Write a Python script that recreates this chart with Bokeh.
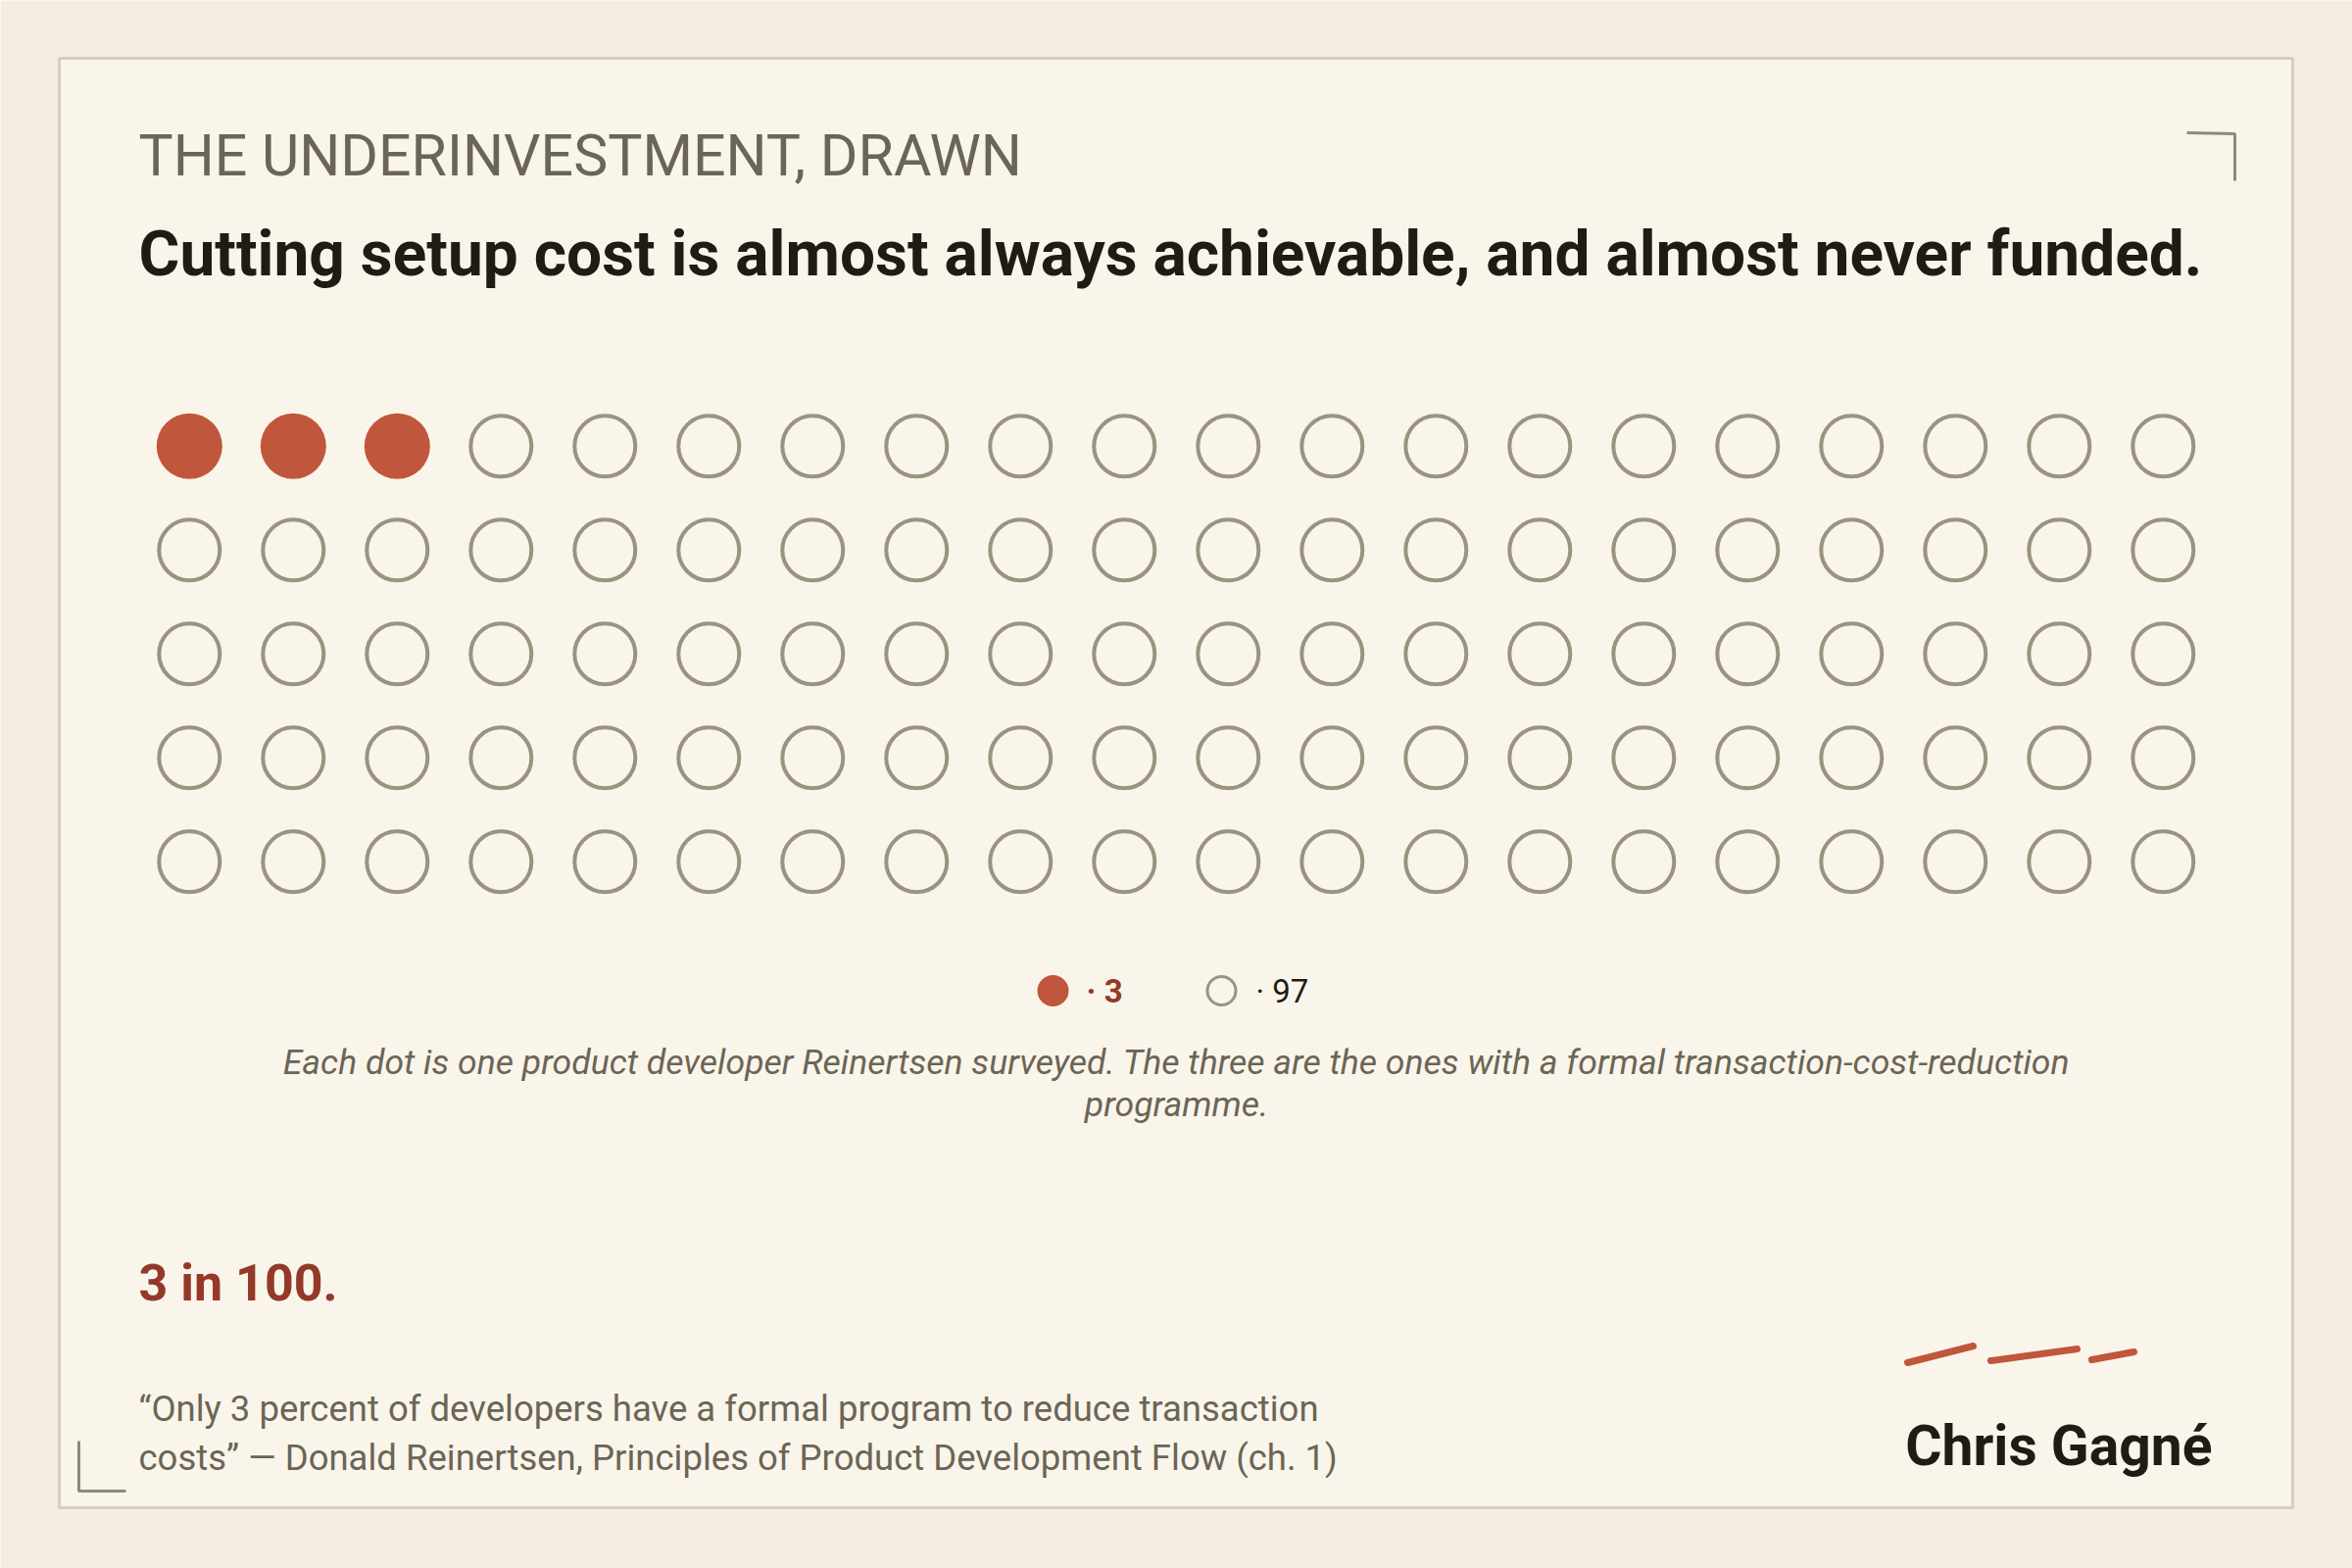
from bokeh.plotting import figure
from bokeh.models import Range1d, Label, ColumnDataSource
from bokeh.embed import file_html
from bokeh.resources import INLINE

# ---------------- data ----------------
groups = ["formal programme", "no programme"]
counts = [3, 97]
n_cols = 20
n_rows = 5

subtitle = "THE UNDERINVESTMENT, DRAWN"
title = "Cutting setup cost is almost always achievable, and almost never funded."
caption_lines = [
    "Each dot is one product developer Reinertsen surveyed. The three are the ones with a formal transaction-cost-reduction",
    "programme.",
]
headline = "3 in 100."
quote_lines = [
    "\u201cOnly 3 percent of developers have a formal program to reduce transaction",
    "costs\u201d \u2014 Donald Reinertsen, Principles of Product Development Flow (ch. 1)",
]
signature = "Chris Gagn\u00e9"

# ---------------- style ----------------
PAGE_BG = "#f4eee2"
CARD_BG = "#faf5ea"
CARD_LINE = "#d5cfc3"
RED = "#c0563b"
DARK_RED = "#93392a"
GREY_DOT = "#9a9380"
MUTED = "#6b6556"
INK = "#1f1c16"
FONT = "Roboto"

W, H = 2400, 1600
OFF = 0

# grid layout (page pixels)
GX0, GY0, PITCH = 192.8, 454.8, 106.0

# build dot table
kind = []
for g, c in zip(groups, counts):
    kind += [g] * c
xs = [i % n_cols for i in range(len(kind))]
ys = [i // n_cols for i in range(len(kind))]
src_fill = ColumnDataSource(dict(
    x=[x for x, k in zip(xs, kind) if k == groups[0]],
    y=[y for y, k in zip(ys, kind) if k == groups[0]]))
src_open = ColumnDataSource(dict(
    x=[x for x, k in zip(xs, kind) if k == groups[1]],
    y=[y for y, k in zip(ys, kind) if k == groups[1]]))

p = figure(width=W, height=H,
           x_range=Range1d(OFF, OFF + W), y_range=Range1d(OFF + H, OFF),
           output_backend="svg", toolbar_location=None, min_border=0,
           x_axis_location=None, y_axis_location=None,
           background_fill_color=PAGE_BG, border_fill_color=PAGE_BG,
           outline_line_color=None)
p.grid.visible = False

# grid ranges: column/row index -> page pixel
xs0 = -(GX0 - OFF) / PITCH
ye = -(GY0 - OFF) / PITCH
p.extra_x_ranges = {"gx": Range1d(xs0, xs0 + W / PITCH)}
p.extra_y_ranges = {"gy": Range1d(ye + H / PITCH, ye)}

# card
p.quad(left=60, right=2339, top=59, bottom=1538, fill_color=CARD_BG,
       line_color=CARD_LINE, line_width=3)

# corner marks
p.line([2231, 2280, 2280], [135, 136, 184], line_color="#8f8a77", line_width=3)
p.line([80, 80, 128], [1470, 1521, 1521], line_color="#8f8a77", line_width=3)

# dots
p.circle("x", "y", radius=33.5 / PITCH, source=src_fill, fill_color=RED,
         line_color=None, x_range_name="gx", y_range_name="gy")
p.circle("x", "y", radius=31 / PITCH, source=src_open, fill_color=None,
         line_color=GREY_DOT, line_width=4, x_range_name="gx", y_range_name="gy")

# legend
p.scatter([1074], [1010.5], size=32, marker="circle", fill_color=RED, line_color=None)
p.scatter([1246], [1010.5], size=29, marker="circle", fill_color=None,
          line_color=GREY_DOT, line_width=3)

def lab(x, y, text, size, color, style="normal", align="left"):
    # y is the wanted baseline; compensate for the renderer's baseline offset
    p.add_layout(Label(x=x, y=y - 0.32 * size, text=text, text_font=FONT,
                       text_font_size=f"{size}px", text_color=color,
                       text_font_style=style, text_align=align,
                       text_baseline="alphabetic"))

lab(1108, 1021.5, f"\u00b7 {counts[0]}", 33, DARK_RED, "bold")
lab(1281, 1021.5, f"\u00b7 {counts[1]}", 33, INK)

# texts
lab(141, 176.5, subtitle, 59, MUTED)
lab(141, 279, title, 64, INK, "bold")
lab(1200, 1095, caption_lines[0], 35.6, MUTED, "italic", "center")
lab(1200, 1138, caption_lines[1], 35.6, MUTED, "italic", "center")
lab(141, 1326, headline, 52, DARK_RED, "bold")
lab(141, 1449, quote_lines[0], 36.5, MUTED)
lab(141, 1499, quote_lines[1], 36.5, MUTED)
lab(2257, 1493, signature, 57, INK, "bold", "right")

# signature strokes
for sx, sy in [([1946, 2013], [1390, 1373]), ([2031, 2119], [1388, 1376]),
               ([2134, 2177], [1387, 1379])]:
    p.line(sx, sy, line_color=RED, line_width=7, line_cap="round")

open("out.html", "w").write(file_html(p, INLINE))
